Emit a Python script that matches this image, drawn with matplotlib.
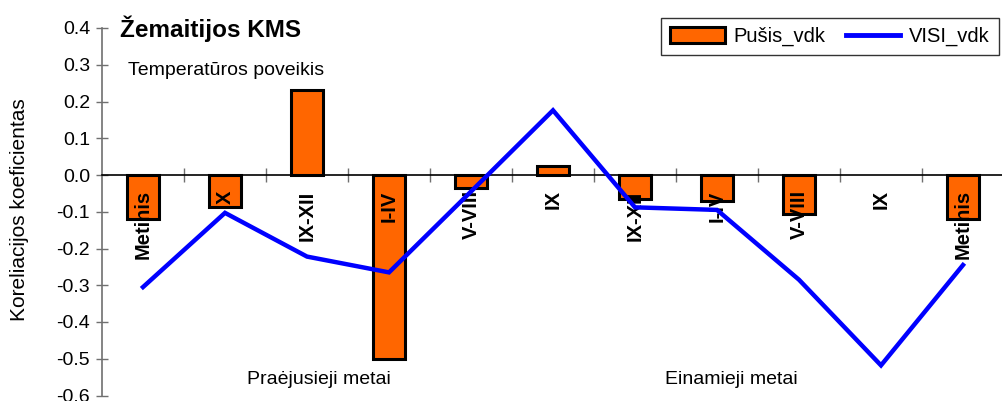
#!/usr/bin/env python3
"""Koreliacijos koeficientai — Žemaitijos KMS, temperatūros poveikis.

Bar + line combo chart (Pušis_vdk bars, VISI_vdk line) over months of the
previous and current year.
"""

import matplotlib
matplotlib.use("Agg")
import matplotlib.pyplot as plt
import numpy as np
from matplotlib.lines import Line2D
from matplotlib.patches import Patch
from matplotlib.ticker import FixedLocator, FormatStrFormatter

plt.rcParams["font.family"] = ["Liberation Sans", "DejaVu Sans"]
plt.rcParams["axes.unicode_minus"] = False

# ---------------------------------------------------------------------------
# Data
# ---------------------------------------------------------------------------

categories = ["Metinis", "X", "IX-XII", "I-IV", "V-VIII", "IX",
              "IX-XII", "I-IV", "V-VIII", "IX", "Metinis"]
pusis_vdk = [-0.12, -0.088, 0.232, -0.50, -0.035, 0.025,
             -0.065, -0.07, -0.105, np.nan, -0.12]
visi_vdk = [-0.305, -0.103, -0.222, -0.265, -0.045, 0.176,
            -0.088, -0.095, -0.285, -0.518, -0.245]
y_ticks = [0.4, 0.3, 0.2, 0.1, 0.0, -0.1, -0.2, -0.3, -0.4, -0.5, -0.6]
group_labels = ["Praėjusieji metai", "Einamieji metai"]
group_positions = [2.15, 7.18]

ORANGE = "#FF6600"
BLUE = "#0000FF"
W, H = 1003, 401


def px_x(x):
    return x / W


def px_y(y):
    return (H - y) / H


# ---------------------------------------------------------------------------
# Figure
# ---------------------------------------------------------------------------

fig = plt.figure(figsize=(W / 100, H / 100), dpi=100)
ax = fig.add_axes([px_x(102), px_y(395.5), px_x(1004 - 102), (395.5 - 28) / H])

x = np.arange(len(categories))
ax.bar(x, pusis_vdk, width=0.4, color=ORANGE, edgecolor="black",
       linewidth=2.2, zorder=2)
ax.plot(x, visi_vdk, color=BLUE, linewidth=3.2, zorder=4, solid_joinstyle="miter")

# rotated category labels just under the zero line
for i, lab in enumerate(categories):
    ax.annotate(lab, xy=(i, 0), xytext=(0, -11), textcoords="offset points",
                rotation=90, ha="center", va="top", fontsize=14.5,
                fontweight="bold", zorder=3)

for lab, pos in zip(group_labels, group_positions):
    ax.text(pos, -0.557, lab, ha="center", va="center", fontsize=14)

ax.set_xlim(-0.5, 10.5)
ax.set_ylim(-0.6, 0.4)

ax.spines["top"].set_visible(False)
ax.spines["right"].set_visible(False)
ax.spines["bottom"].set_position(("data", 0))
ax.spines["bottom"].set_color("black")
ax.spines["bottom"].set_linewidth(1.2)
ax.spines["left"].set_color("#707070")
ax.spines["left"].set_linewidth(1.2)

ax.xaxis.set_major_locator(FixedLocator(np.arange(0.5, 11, 1.0)))
ax.tick_params(axis="x", direction="inout", length=10, width=1,
               color="#707070", labelbottom=False)
ax.yaxis.set_major_locator(FixedLocator(y_ticks))
ax.yaxis.set_major_formatter(FormatStrFormatter("%.1f"))
ax.tick_params(axis="y", direction="inout", length=9, width=1,
               color="#707070", labelsize=14, pad=4)

# titles and axis label
fig.text(px_x(120), px_y(37), "Žemaitijos KMS", fontsize=17.5,
         fontweight="bold", ha="left", va="baseline")
fig.text(px_x(128), px_y(75), "Temperatūros poveikis", fontsize=14,
         ha="left", va="baseline")
fig.text(px_x(20), px_y(210), "Koreliacijos koeficientas", rotation=90,
         fontsize=15, ha="center", va="center")

handles = [Patch(facecolor=ORANGE, edgecolor="black", linewidth=2.2),
           Line2D([], [], color=BLUE, linewidth=3.5)]
leg = fig.legend(handles, ["Pušis_vdk", "VISI_vdk"], ncol=2,
                 loc="upper right", bbox_to_anchor=(px_x(999), px_y(18)),
                 fontsize=14.5, frameon=True, fancybox=False,
                 handlelength=2.7, handleheight=0.8, handletextpad=0.45,
                 columnspacing=1.0, borderpad=0.45, borderaxespad=0)
leg.get_frame().set_edgecolor("black")
leg.get_frame().set_linewidth(1.0)

fig.savefig("out.png", dpi=100)
plt.close("all")
